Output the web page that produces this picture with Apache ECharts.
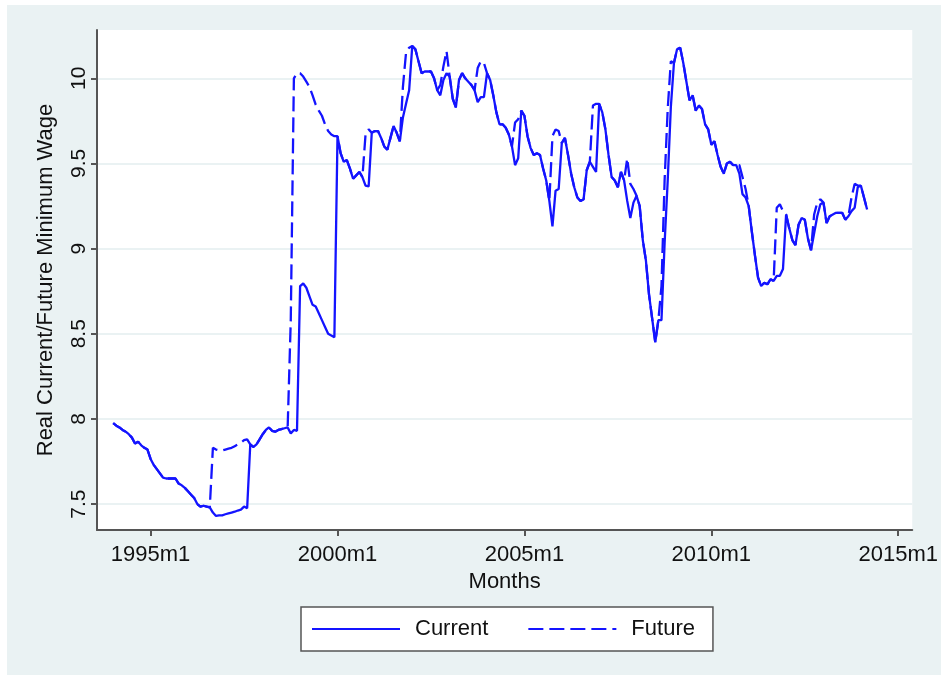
<!DOCTYPE html>
<html>
<head>
<meta charset="utf-8">
<script src="https://cdn.jsdelivr.net/npm/echarts@6/dist/echarts.min.js"></script>
<style>
  html, body { margin: 0; padding: 0; background: #ffffff; }
  #chart { width: 941px; height: 679px; }
</style>
</head>
<body>
<div id="chart"></div>
<script>
// Monthly series, index 0 = 1994m1, last = 2014m3
const startYear = 1994;

const current = [
  7.975, 7.96, 7.95, 7.935, 7.925, 7.91, 7.89, 7.855, 7.866, 7.845,
  7.83, 7.82, 7.765, 7.73, 7.705, 7.68, 7.655, 7.65, 7.65, 7.65,
  7.65, 7.62, 7.61, 7.595, 7.575, 7.555, 7.535, 7.50, 7.485, 7.49,
  7.485, 7.48, 7.45, 7.43, 7.433, 7.434, 7.44, 7.445, 7.45, 7.455,
  7.462, 7.467, 7.485, 7.475, 7.85, 7.835, 7.85, 7.88, 7.91, 7.935,
  7.95, 7.93, 7.925, 7.935, 7.94, 7.945, 7.95, 7.915, 7.935, 7.93,
  8.78, 8.795, 8.77, 8.72, 8.67, 8.66, 8.62, 8.58, 8.54, 8.50,
  8.49, 8.48, 9.66, 9.56, 9.51, 9.52, 9.47, 9.41, 9.43, 9.45,
  9.42, 9.37, 9.365, 9.68, 9.69, 9.69, 9.65, 9.60, 9.58, 9.65,
  9.72, 9.68, 9.63, 9.77, 9.85, 9.93, 10.19, 10.17, 10.10, 10.03,
  10.04, 10.04, 10.04, 10.0, 9.93, 9.90, 9.99, 10.03, 10.01, 9.88,
  9.83, 9.99, 10.03, 10.0, 9.98, 9.96, 9.93, 9.86, 9.89, 9.89,
  10.03, 9.99, 9.90, 9.80, 9.73, 9.73, 9.71, 9.67, 9.60, 9.49,
  9.53, 9.81, 9.78, 9.66, 9.59, 9.55, 9.56, 9.55, 9.47, 9.40,
  9.28, 9.13, 9.34, 9.35, 9.62, 9.65, 9.55, 9.44, 9.36, 9.30,
  9.28, 9.29, 9.46, 9.51, 9.48, 9.45, 9.85, 9.80, 9.70, 9.55,
  9.42, 9.40, 9.36, 9.45, 9.40, 9.28, 9.18, 9.27, 9.31, 9.25,
  9.05, 8.93, 8.73, 8.59, 8.45, 8.58, 8.58, 9.03, 9.40, 9.83,
  10.09, 10.17, 10.18, 10.09, 9.98, 9.87, 9.90, 9.81, 9.84, 9.82,
  9.73, 9.70, 9.61, 9.63, 9.55, 9.48, 9.44, 9.50, 9.51, 9.49,
  9.49, 9.44, 9.32, 9.30, 9.25, 9.10, 8.96, 8.83, 8.78, 8.80,
  8.79, 8.82, 8.81, 8.84, 8.84, 8.88, 9.20, 9.12, 9.05, 9.02,
  9.14, 9.18, 9.17, 9.06, 8.99, 9.09, 9.19, 9.26, 9.27, 9.15,
  9.19, 9.20, 9.21, 9.21, 9.21, 9.17, 9.19, 9.22, 9.24, 9.36,
  9.37, 9.30, 9.23
];

const future = [
  7.975, 7.96, 7.95, 7.935, 7.925, 7.91, 7.89, 7.855, 7.866, 7.845,
  7.83, 7.82, 7.765, 7.73, 7.705, 7.68, 7.655, 7.65, 7.65, 7.65,
  7.65, 7.62, 7.61, 7.595, 7.575, 7.555, 7.535, 7.50, 7.485, 7.49,
  7.485, 7.48, 7.83, 7.82, 7.815, 7.815, 7.82, 7.825, 7.83, 7.84,
  7.85, 7.86, 7.875, 7.88, 7.85, 7.835, 7.85, 7.88, 7.91, 7.935,
  7.95, 7.93, 7.925, 7.935, 7.94, 7.945, 7.95, 8.58, 10.00, 10.03,
  10.03, 10.01, 9.98, 9.95, 9.90, 9.845, 9.81, 9.78, 9.73, 9.69,
  9.67, 9.66, 9.66, 9.56, 9.51, 9.52, 9.47, 9.41, 9.43, 9.45,
  9.42, 9.67, 9.70, 9.68, 9.69, 9.69, 9.65, 9.60, 9.58, 9.65,
  9.72, 9.68, 9.63, 9.95, 10.15, 10.18, 10.19, 10.17, 10.10, 10.03,
  10.04, 10.04, 10.04, 10.0, 9.93, 9.96, 10.07, 10.16, 10.01, 9.88,
  9.83, 9.99, 10.03, 10.0, 9.98, 9.96, 9.93, 10.06, 10.10, 10.09,
  10.03, 9.99, 9.90, 9.80, 9.73, 9.73, 9.71, 9.67, 9.60, 9.74,
  9.76, 9.81, 9.78, 9.66, 9.59, 9.55, 9.56, 9.55, 9.47, 9.40,
  9.28, 9.66, 9.70, 9.69, 9.62, 9.65, 9.55, 9.44, 9.36, 9.30,
  9.28, 9.29, 9.46, 9.51, 9.84, 9.85, 9.85, 9.80, 9.70, 9.55,
  9.42, 9.40, 9.36, 9.45, 9.40, 9.53, 9.38, 9.35, 9.31, 9.25,
  9.05, 8.93, 8.73, 8.59, 8.45, 8.58, 8.78, 9.40, 9.82, 10.10,
  10.09, 10.17, 10.18, 10.09, 9.98, 9.87, 9.90, 9.81, 9.84, 9.82,
  9.73, 9.70, 9.61, 9.63, 9.55, 9.48, 9.44, 9.50, 9.51, 9.49,
  9.49, 9.49, 9.42, 9.35, 9.25, 9.10, 8.96, 8.83, 8.78, 8.80,
  8.79, 8.82, 8.81, 9.24, 9.26, 9.22, 9.20, 9.12, 9.05, 9.02,
  9.14, 9.18, 9.17, 9.06, 8.99, 9.20, 9.27, 9.29, 9.27, 9.15,
  9.19, 9.20, 9.21, 9.21, 9.21, 9.17, 9.19, 9.30, 9.38, 9.37,
  9.37, 9.30, 9.23
];

// Axis ticks
const yTicks = [7.5, 8, 8.5, 9, 9.5, 10];
const xTicks = [12, 72, 132, 192, 252]; // 1995m1 ... 2015m1
const seriesNames = ['Current', 'Future'];
const axisTitles = { x: 'Months', y: 'Real Current/Future Minimum Wage' };

const FONT = "'Liberation Sans', Arial, Helvetica, sans-serif";
const LINE_BLUE = '#1414ff';
const AXIS_GRAY = '#555555';
const PANEL_BG = '#eaf2f3';

const monthLabel = v => (startYear + Math.round(v) / 12) + 'm1';

const chart = echarts.init(document.getElementById('chart'), null, { renderer: 'canvas' });

chart.setOption({
  animation: false,
  backgroundColor: '#ffffff',
  graphic: [{
    type: 'rect',
    silent: true,
    z: -100,
    shape: { x: 7, y: 5, width: 934, height: 670 },
    style: { fill: PANEL_BG }
  }],
  grid: {
    left: 97, right: 25, top: 30, bottom: 149,
    show: true, backgroundColor: '#ffffff', borderWidth: 0
  },
  xAxis: {
    type: 'value',
    min: -5.2, max: 256.5,
    axisLine: { show: true, onZero: false, lineStyle: { color: AXIS_GRAY, width: 2 } },
    axisTick: { show: true, length: 6, customValues: xTicks, lineStyle: { color: AXIS_GRAY, width: 2 } },
    axisLabel: {
      customValues: xTicks, formatter: monthLabel,
      fontSize: 22, color: '#111', fontFamily: FONT, margin: 14
    },
    splitLine: { show: false },
    name: axisTitles.x, nameLocation: 'middle', nameGap: 40,
    nameTextStyle: { fontSize: 22, color: '#111', fontFamily: FONT }
  },
  yAxis: {
    type: 'value',
    min: 7.3476, max: 10.2836,
    axisLine: { show: true, onZero: false, lineStyle: { color: AXIS_GRAY, width: 2 } },
    axisTick: { show: true, length: 6, customValues: yTicks, lineStyle: { color: AXIS_GRAY, width: 2 } },
    axisLabel: {
      customValues: yTicks, rotate: 90,
      fontSize: 21, color: '#111', fontFamily: FONT, margin: 7
    },
    splitLine: { show: true, lineStyle: { color: PANEL_BG, width: 2 } },
    name: axisTitles.y, nameLocation: 'middle', nameGap: 40,
    nameTextStyle: { fontSize: 22, color: '#111', fontFamily: FONT }
  },
  legend: {
    data: seriesNames,
    left: 301, top: 607,
    orient: 'horizontal',
    selectedMode: false,
    backgroundColor: '#ffffff',
    borderColor: AXIS_GRAY, borderWidth: 1.5, borderRadius: 0,
    padding: [11, 18, 11, 10],
    itemWidth: 88, itemHeight: 14, itemGap: 39,
    itemStyle: { opacity: 0 },
    textStyle: { fontSize: 22, color: '#111', fontFamily: FONT, padding: [0, 0, 0, 10] }
  },
  series: [
    {
      name: seriesNames[0],
      type: 'line',
      data: current.map((v, i) => [i, v]),
      symbol: 'none', showSymbol: false,
      lineStyle: { color: LINE_BLUE, width: 2.3 },
      itemStyle: { color: LINE_BLUE },
      z: 2
    },
    {
      name: seriesNames[1],
      type: 'line',
      data: future.map((v, i) => [i, v]),
      symbol: 'none', showSymbol: false,
      lineStyle: { color: LINE_BLUE, width: 2.3, type: [15, 6] },
      itemStyle: { color: LINE_BLUE },
      z: 3
    }
  ]
});
</script>
</body>
</html>
